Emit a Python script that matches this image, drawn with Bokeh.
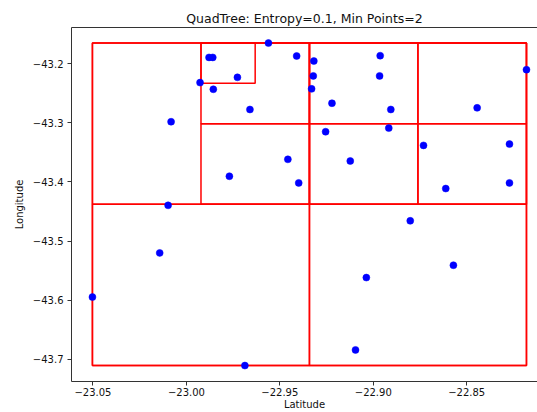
from bokeh.plotting import figure
from bokeh.models import Range1d, FixedTicker, LinearAxis, ColumnDataSource
from bokeh.embed import file_html
from bokeh.resources import INLINE

# ---- data ----
lon = [-22.9561, -22.9879, -22.9859, -22.9727, -22.9927, -22.9856, -22.9660,
       -23.0082, -22.9770, -23.0098, -22.9410, -22.9318, -22.9321, -22.9330,
       -22.9221, -22.8963, -22.8966, -22.8906, -22.8917, -22.9255, -22.9457,
       -22.9123, -22.9399, -22.8731, -22.8612, -22.8271, -22.8271, -22.8444,
       -22.8180, -23.0143, -23.0503, -22.9687, -22.8802, -22.8571, -22.9037,
       -22.9095]
lat = [-43.1651, -43.1894, -43.1894, -43.2231, -43.2320, -43.2433, -43.2775,
       -43.2982, -43.3904, -43.4396, -43.1870, -43.1955, -43.2207, -43.2426,
       -43.2669, -43.1865, -43.2207, -43.2775, -43.3090, -43.3151, -43.3618,
       -43.3646, -43.4017, -43.3382, -43.4112, -43.3360, -43.4017, -43.2747,
       -43.2101, -43.5202, -43.5948, -43.7106, -43.4658, -43.5409, -43.5618,
       -43.6842]

# quadtree cells (left, right, bottom, top)
box_left = [-23.0503, -23.0503, -22.93415, -23.0503, -22.93415, -22.9922,
            -22.9922, -22.9922, -22.93415, -22.8761, -22.93415, -22.8761]
box_right = [-22.8180, -22.93415, -22.8180, -22.93415, -22.8180, -22.93415,
             -22.93415, -22.9632, -22.8761, -22.8180, -22.8761, -22.8180]
box_bottom = [-43.7106, -43.7106, -43.7106, -43.43785, -43.43785, -43.3015,
              -43.43785, -43.2333, -43.3015, -43.3015, -43.43785, -43.43785]
box_top = [-43.1651, -43.43785, -43.43785, -43.1651, -43.1651, -43.1651,
           -43.3015, -43.1651, -43.1651, -43.1651, -43.3015, -43.3015]

x_ticks = [-23.05, -23.00, -22.95, -22.90, -22.85]
x_tick_labels = ["\u221223.05", "\u221223.00", "\u221222.95", "\u221222.90", "\u221222.85"]
y_ticks = [-43.2, -43.3, -43.4, -43.5, -43.6, -43.7]
y_tick_labels = ["\u221243.2", "\u221243.3", "\u221243.4", "\u221243.5", "\u221243.6", "\u221243.7"]

title_text = "QuadTree: Entropy=0.1, Min Points=2"
x_label = "Latitude"
y_label = "Longitude"

FONT = "DejaVu Sans"
SPINE = "#333333"
TEXT = "#111111"

p = figure(width=537, height=412, output_backend="svg", toolbar_location=None,
           x_range=Range1d(-23.0615, -22.8121), y_range=Range1d(-43.7376, -43.1388),
           min_border_left=71, min_border_right=0, min_border_top=27,
           min_border_bottom=30)
p.outline_line_color = None
p.background_fill_color = "white"
p.border_fill_color = "white"
p.xgrid.visible = False
p.ygrid.visible = False

p.title.text = title_text
p.title.text_font = FONT
p.title.text_font_size = "12.5px"
p.title.text_font_style = "normal"
p.title.text_color = TEXT
p.title.align = "center"
p.title.standoff = 4
p.title.offset = 4


def style_axis(ax, ticks, labels):
    ax.ticker = FixedTicker(ticks=ticks)
    ax.major_label_overrides = {t: l for t, l in zip(ticks, labels)}
    ax.minor_tick_line_color = None
    ax.major_tick_in = 0
    ax.major_tick_out = 4
    ax.major_tick_line_color = SPINE
    ax.axis_line_color = SPINE
    ax.major_label_text_font = FONT
    ax.major_label_text_font_size = "10px"
    ax.major_label_text_color = TEXT
    ax.axis_label_text_font = FONT
    ax.axis_label_text_font_size = "10px"
    ax.axis_label_text_font_style = "normal"
    ax.axis_label_text_color = TEXT


xa = p.below[0]
ya = p.left[0]
style_axis(xa, x_ticks, x_tick_labels)
style_axis(ya, y_ticks, y_tick_labels)
xa.major_label_standoff = 2
xa.axis_label = x_label
xa.axis_label_standoff = 0
ya.major_label_standoff = 4
ya.axis_label = y_label
ya.axis_label_standoff = 5

top_ax = LinearAxis(ticker=FixedTicker(ticks=[]), major_label_text_font_size="0px",
                    axis_line_color=SPINE, major_tick_line_color=None,
                    minor_tick_line_color=None, major_label_standoff=0,
                    major_tick_out=0, major_tick_in=0)
p.add_layout(top_ax, "above")

src_box = ColumnDataSource(dict(left=box_left, right=box_right, bottom=box_bottom, top=box_top))
p.quad(left="left", right="right", bottom="bottom", top="top", source=src_box,
       fill_color=None, line_color="red", line_width=1.5)

src_pts = ColumnDataSource(dict(x=lon, y=lat))
p.scatter(x="x", y="y", source=src_pts, size=7, fill_color="blue", line_color="blue",
          line_width=0.5)

open("out.html", "w").write(file_html(p, INLINE))
